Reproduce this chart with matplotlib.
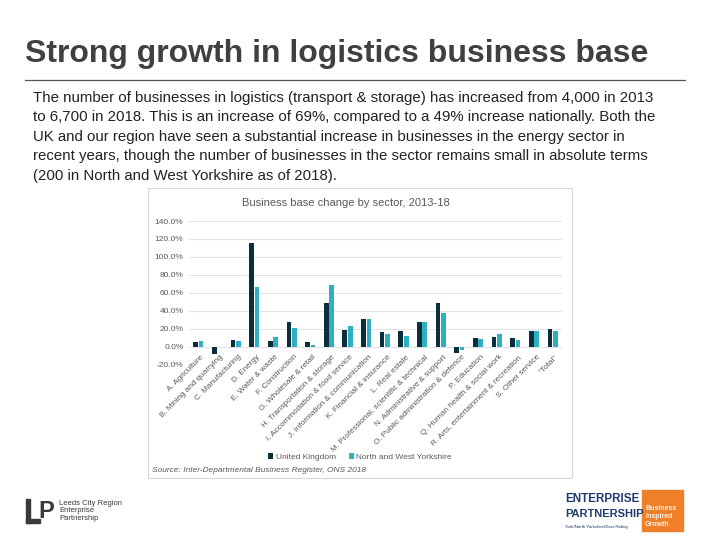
import matplotlib.pyplot as plt
import numpy as np
from matplotlib.patches import Rectangle

plt.rcParams['font.family'] = ['Liberation Sans', 'DejaVu Sans']

# sector labels and % change in business base, 2013-18
sectors = [
    'A. Agriculture', 'B. Mining and quarrying', 'C. Manufacturing', 'D. Energy',
    'E. Water & waste', 'F. Construction', 'G. Wholesale & retail',
    'H. Transportation & storage', 'I. Accommodation & food service',
    'J. Information & communication', 'K. Financial & insurance', 'L. Real estate',
    'M. Professional, scientific & technical', 'N. Administrative & support',
    'O. Public administration & defence', 'P. Education',
    'Q. Human health & social work', 'R. Arts, entertainment & recreation',
    'S. Other service', '"Total"',
]
uk = [4.8, -7.8, 7.1, 115.1, 5.9, 27.5, 4.8, 48.6, 18.6, 30.8,
      16.0, 17.5, 27.1, 48.3, -6.7, 10.0, 11.1, 9.7, 17.5, 19.3]
nwy = [5.9, 0.0, 6.3, 66.5, 10.4, 20.8, 2.2, 68.7, 23.0, 30.4,
       14.1, 11.9, 27.1, 37.5, -3.9, 8.5, 14.1, 7.1, 17.5, 17.5]
yticks = [-20, 0, 20, 40, 60, 80, 100, 120, 140]

title = 'Strong growth in logistics business base'
body = [
    'The number of businesses in logistics (transport & storage) has increased from 4,000 in 2013',
    'to 6,700 in 2018. This is an increase of 69%, compared to a 49% increase nationally. Both the',
    'UK and our region have seen a substantial increase in businesses in the energy sector in',
    'recent years, though the number of businesses in the sector remains small in absolute terms',
    '(200 in North and West Yorkshire as of 2018).',
]

W, H = 720, 540
fig = plt.figure(figsize=(7.2, 5.4), dpi=100)

# slide layer in pixel coordinates
bg = fig.add_axes([0, 0, 1, 1])
bg.set_xlim(0, W)
bg.set_ylim(H, 0)
bg.axis('off')

bg.text(25, 62, title, fontsize=23, fontweight='bold', color='#404040', va='baseline')
bg.plot([25, 685], [79.5, 79.5], color='#555555', lw=0.9)
for k, line in enumerate(body):
    bg.text(33, 98 + k * 19.4, line, fontsize=10.8, color='#222222', va='center')

# chart frame
bg.add_patch(Rectangle((148, 188), 424, 290, fill=False, ec='#d9d9d9', lw=0.8))
bg.text(346, 203, 'Business base change by sector, 2013-18', fontsize=8,
        color='#595959', ha='center', va='center')
bg.text(152, 471, 'Source: Inter-Departmental Business Register, ONS 2018',
        fontsize=6, style='italic', color='#595959', va='center')

# left logo
bg.add_patch(Rectangle((26, 499), 4, 24, color='#3a3a3a'))
bg.add_patch(Rectangle((26, 519), 14, 4, color='#3a3a3a'))
bg.text(38, 511, 'P', fontsize=17, fontweight='bold', color='#3a3a3a', va='center')
bg.text(59, 511, 'Leeds City Region\nEnterprise\nPartnership', fontsize=5.5,
        color='#3a3a3a', va='center', linespacing=1.1)

# right logo
bg.text(565, 499, 'ENTERPRISE', fontsize=8.4, fontweight='bold', color='#1f3a6e',
        va='center')
bg.text(565, 514, 'PARTNERSHIP', fontsize=8.0, fontweight='bold', color='#1f3a6e',
        va='center')
bg.text(565, 527, 'York/North Yorkshire/East Riding', fontsize=3.2, color='#1f3a6e',
        va='center')
bg.add_patch(Rectangle((642, 490), 41, 41, color='#f07f2a'))
bg.text(645, 517, 'Business\nInspired\nGrowth', fontsize=5.0, fontweight='bold',
        color='#fff3e6', ha='left', va='center', linespacing=1.2)

# chart
ax = fig.add_axes([189 / W, 1 - 364.7 / H, 373 / W, (364.7 - 221) / H])
x = np.arange(len(sectors))
ax.bar(x - 0.145, uk, width=0.25, color='#0a2e3b', label='United Kingdom', zorder=3)
ax.bar(x + 0.145, nwy, width=0.25, color='#2fafc2', label='North and West Yorkshire',
       zorder=3)
ax.set_xlim(-0.5, len(sectors) - 0.5)
ax.set_ylim(-20, 140)
ax.set_yticks(yticks)
ax.set_yticklabels([f'{v:.1f}%' for v in yticks], fontsize=6, color='#595959')
ax.tick_params(axis='y', length=0, pad=4)
ax.set_xticks([])
ax.grid(axis='y', color='#e3e3e3', lw=0.8, zorder=0)
for s in ax.spines.values():
    s.set_visible(False)

for i, name in enumerate(sectors):
    ax.annotate(name, xy=(i, 0), xytext=(1.5, -5), textcoords='offset points',
                rotation=45, ha='right', va='top', rotation_mode='anchor',
                fontsize=5.9, color='#595959', annotation_clip=False)

ax.legend(loc='center', bbox_to_anchor=(360 / W, 1 - 457 / H),
          bbox_transform=fig.transFigure, ncol=2, frameon=False, fontsize=6,
          handlelength=0.6, handleheight=0.6, handletextpad=0.3, columnspacing=1.5,
          labelcolor='#595959')

fig.savefig('out.png', dpi=100, facecolor='white')
